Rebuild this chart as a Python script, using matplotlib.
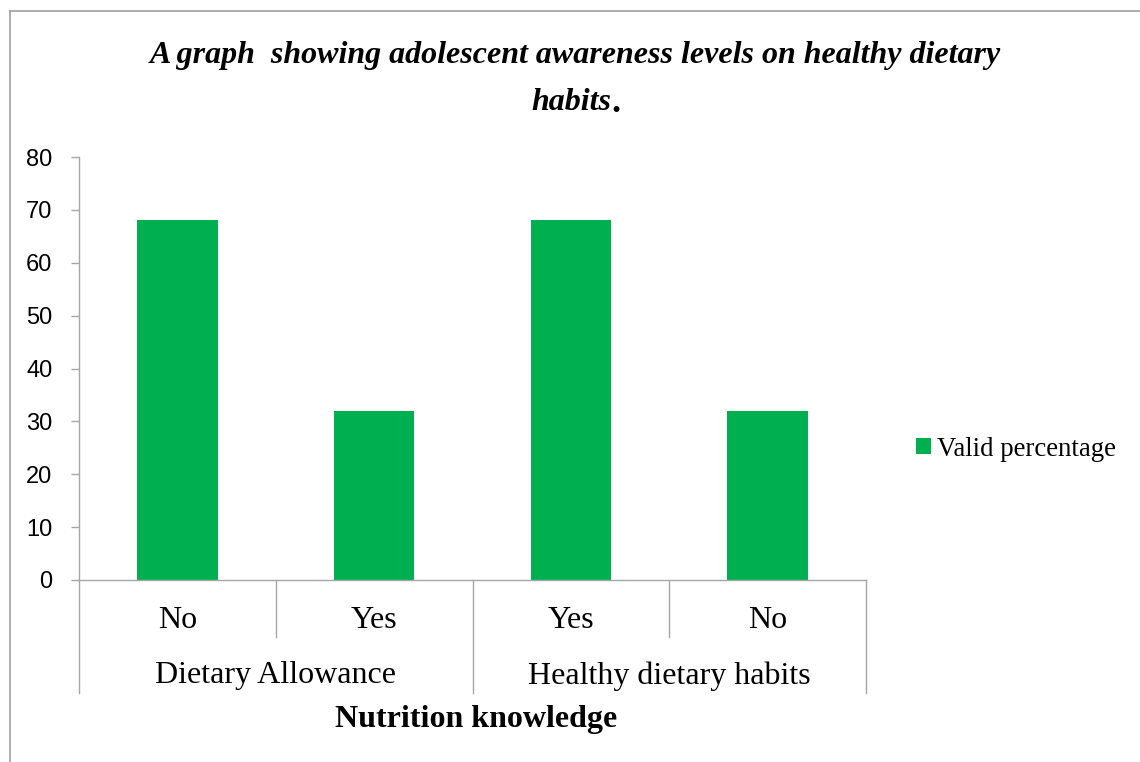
import matplotlib
matplotlib.use("Agg")
import matplotlib.pyplot as plt
from matplotlib.lines import Line2D
import matplotlib.transforms as mtransforms

categories = ["No", "Yes", "Yes", "No"]
groups = ["Dietary Allowance", "Healthy dietary habits"]
values = [68, 32, 68, 32]
yticks = [0, 10, 20, 30, 40, 50, 60, 70, 80]
series_name = "Valid percentage"
title = "A graph  showing adolescent awareness levels on healthy dietary"
title2 = "habits"
xlabel = "Nutrition knowledge"

W, H = 1140, 762
fig = plt.figure(figsize=(W / 100, H / 100), dpi=100)
fig.patch.set_facecolor("white")

def fx(px):
    return px / W

def fy(py):
    return 1 - py / H

ax = fig.add_axes([fx(79), fy(580), fx(866) - fx(79), fy(157) - fy(580)])
green = "#00B050"
grey = "#A6A6A6"

x = list(range(len(values)))
bars = ax.bar(x, values, width=0.41, color=green, label=series_name, zorder=2)
ax.set_xlim(-0.5, len(values) - 0.5)
ax.set_ylim(0, 80)
ax.set_yticks(yticks)
ax.set_yticklabels([str(v) for v in yticks], fontfamily="Liberation Sans", fontsize=17)
ax.tick_params(axis="y", length=6, color=grey, width=1, pad=13)
ax.tick_params(axis="x", length=0, labelbottom=False)
for s in ["top", "right"]:
    ax.spines[s].set_visible(False)
ax.spines["left"].set_color(grey)
ax.spines["bottom"].set_color(grey)
ax.spines["left"].set_linewidth(1)
ax.spines["bottom"].set_linewidth(1)

trans = mtransforms.blended_transform_factory(ax.transData, ax.transAxes)
ah = 580 - 157
def ay(py):
    return (580 - py) / ah

# separators
for xs in [0.5, 2.5]:
    ax.add_line(Line2D([xs, xs], [0, ay(637)], transform=trans, color=grey, lw=1, clip_on=False))
for xs in [-0.5, 1.5, 3.5]:
    ax.add_line(Line2D([xs, xs], [0, ay(693)], transform=trans, color=grey, lw=1, clip_on=False))

serif = "Liberation Serif"
for xi, c in zip(x, categories):
    ax.text(xi, ay(621), c, transform=trans, ha="center", va="center", fontfamily=serif, fontsize=23)
for gi, g in enumerate(groups):
    ax.text(gi * 2 + 0.5, ay(676), g, transform=trans, ha="center", va="center", fontfamily=serif, fontsize=23)

fig.text(fx(476), fy(720), xlabel, ha="center", va="center", fontfamily=serif, fontsize=23, fontweight="bold")

fig.text(fx(575), fy(55), title, ha="center", va="center", fontfamily=serif, fontsize=23,
         fontweight="bold", fontstyle="italic")
fig.text(fx(611), fy(103), title2, ha="right", va="center", fontfamily=serif, fontsize=23,
         fontweight="bold", fontstyle="italic")
fig.text(fx(611), fy(103), ".", ha="left", va="center", fontfamily=serif, fontsize=26,
         fontweight="bold")

leg = fig.legend(handles=[bars], labels=[series_name], loc="center left",
                 bbox_to_anchor=(fx(916), fy(449)), frameon=False,
                 prop={"family": serif, "size": 19.3}, handlelength=0.55, handleheight=0.55,
                 handletextpad=0.25, borderaxespad=0, borderpad=0)

# outer border
fig.add_artist(Line2D([fx(9.5), fx(9.5)], [fy(11), 0], color="#A0A0A0", lw=1.2))
fig.add_artist(Line2D([fx(9.5), 1], [fy(11), fy(11)], color="#A0A0A0", lw=1.2))

fig.savefig("out.png", dpi=100, facecolor="white")
